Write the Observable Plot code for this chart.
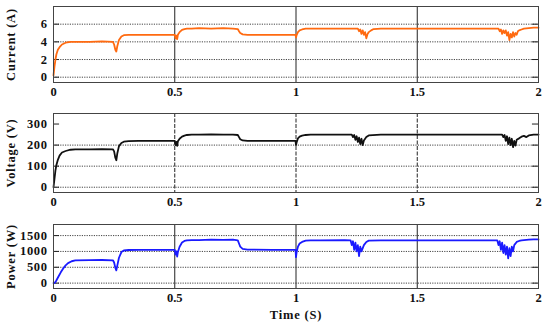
<!DOCTYPE html>
<html>
<head>
<meta charset="utf-8">
<script src="https://cdn.jsdelivr.net/npm/d3@7"></script>
<script src="https://cdn.jsdelivr.net/npm/@observablehq/plot@0.6"></script>
<style>
  body { margin: 0; background: #fff; }
  #chart { width: 550px; height: 326px; position: relative; }
  #chart svg { display: block; }
  #chart [aria-label="y-axis label"] text { letter-spacing: 0.8px; }
  #chart [aria-label="x-axis label"] text { letter-spacing: 0.8px; }
  #chart [aria-label="y-axis tick label"] text { letter-spacing: 0.6px; }
</style>
</head>
<body>
<div id="chart"></div>
<script>
// ---- shared x axis ----
const xTicks = [0, 0.5, 1, 1.5, 2];
const xTickLabels = ["0", "0.5", "1", "1.5", "2"];
const xVerticals = [0.5, 1, 1.5];

// ---- Current (A) ----
const timeI = [
  0, 0.004, 0.008, 0.012, 0.018, 0.025, 0.035, 0.05, 0.07, 0.09,
  0.15, 0.2, 0.245, 0.25, 0.255, 0.259, 0.263, 0.27, 0.28, 0.29,
  0.31, 0.35, 0.4, 0.45, 0.5, 0.503, 0.507, 0.51, 0.513, 0.52,
  0.53, 0.54, 0.55, 0.57, 0.6, 0.65, 0.7, 0.74, 0.76, 0.765,
  0.77, 0.78, 0.8, 0.9, 0.998, 1.0, 1.003, 1.008, 1.015, 1.025,
  1.04, 1.06, 1.1, 1.2, 1.255, 1.26, 1.265, 1.27, 1.275, 1.28,
  1.285, 1.29, 1.295, 1.3, 1.31, 1.32, 1.35, 1.4, 1.5, 1.6,
  1.7, 1.8, 1.835, 1.84, 1.845, 1.85, 1.855, 1.86, 1.865, 1.87,
  1.875, 1.88, 1.885, 1.89, 1.895, 1.9, 1.905, 1.91, 1.915, 1.92,
  1.93, 1.94, 1.96, 1.98, 2.0
];
const current = [
  0.2, 1.2, 2.0, 2.6, 3.1, 3.4, 3.7, 3.9, 4.0, 4.0,
  4.0, 4.05, 4.0, 3.7, 3.1, 2.9, 3.5, 4.2, 4.6, 4.75,
  4.8, 4.8, 4.8, 4.8, 4.8, 4.4, 4.7, 4.3, 4.8, 5.1,
  5.35, 5.45, 5.5, 5.5, 5.55, 5.5, 5.55, 5.5, 5.45, 5.2,
  5.0, 4.85, 4.8, 4.8, 4.8, 4.5, 4.8, 5.1, 5.3, 5.4,
  5.5, 5.5, 5.5, 5.5, 5.5, 5.2, 5.4, 4.9, 5.3, 4.8,
  5.1, 4.4, 4.9, 5.1, 5.3, 5.45, 5.5, 5.5, 5.5, 5.5,
  5.5, 5.5, 5.5, 5.2, 5.4, 4.9, 5.3, 5.0, 5.3, 4.7,
  5.1, 4.2, 4.9, 4.5, 5.1, 4.6, 5.0, 4.8, 5.2, 5.3,
  5.4, 5.5, 5.55, 5.6, 5.6
];
const currentTicks = [0, 2, 4, 6];
const currentGrid = [0, 2, 4, 6];

// ---- Voltage (V) ----
const timeV = [
  0, 0.004, 0.008, 0.012, 0.018, 0.025, 0.035, 0.05, 0.07, 0.09,
  0.15, 0.2, 0.245, 0.25, 0.255, 0.259, 0.263, 0.27, 0.28, 0.29,
  0.31, 0.35, 0.4, 0.45, 0.5, 0.503, 0.507, 0.51, 0.513, 0.52,
  0.53, 0.54, 0.55, 0.57, 0.6, 0.65, 0.7, 0.74, 0.76, 0.765,
  0.77, 0.78, 0.8, 0.9, 0.998, 1.0, 1.003, 1.008, 1.015, 1.025,
  1.04, 1.06, 1.1, 1.2, 1.23, 1.235, 1.24, 1.245, 1.25, 1.255,
  1.26, 1.265, 1.27, 1.275, 1.28, 1.29, 1.3, 1.35, 1.4, 1.5,
  1.6, 1.7, 1.8, 1.85, 1.855, 1.86, 1.865, 1.87, 1.875, 1.88,
  1.885, 1.89, 1.895, 1.9, 1.905, 1.91, 1.92, 1.93, 1.94, 1.95,
  1.96, 1.98, 2.0
];
const voltage = [
  0, 40, 80, 105, 130, 150, 165, 172, 178, 180,
  180, 181, 180, 170, 140, 128, 160, 195, 210, 216,
  219, 220, 220, 220, 220, 200, 215, 196, 218, 230,
  240, 245, 248, 250, 250, 251, 250, 250, 248, 238,
  228, 222, 220, 220, 220, 200, 215, 232, 240, 245,
  248, 250, 250, 250, 250, 238, 248, 225, 242, 215,
  235, 205, 230, 200, 222, 238, 246, 250, 250, 250,
  250, 250, 250, 250, 238, 248, 220, 242, 205, 235,
  200, 230, 190, 220, 198, 225, 232, 240, 244, 238,
  246, 250, 250
];
const voltageTicks = [0, 100, 200, 300];
const voltageGrid = [0, 100, 200];

// ---- Power (W) ----
const timeP = [
  0, 0.005, 0.01, 0.02, 0.03, 0.04, 0.05, 0.06, 0.075, 0.09,
  0.15, 0.2, 0.245, 0.25, 0.255, 0.259, 0.263, 0.27, 0.28, 0.29,
  0.31, 0.35, 0.4, 0.45, 0.5, 0.503, 0.507, 0.51, 0.513, 0.52,
  0.53, 0.54, 0.55, 0.57, 0.6, 0.65, 0.7, 0.74, 0.76, 0.765,
  0.77, 0.78, 0.8, 0.9, 0.998, 1.0, 1.003, 1.008, 1.015, 1.025,
  1.04, 1.06, 1.1, 1.2, 1.225, 1.23, 1.235, 1.24, 1.245, 1.25,
  1.255, 1.26, 1.265, 1.27, 1.28, 1.29, 1.3, 1.35, 1.4, 1.5,
  1.6, 1.7, 1.8, 1.83, 1.835, 1.84, 1.845, 1.85, 1.855, 1.86,
  1.865, 1.87, 1.875, 1.88, 1.885, 1.89, 1.895, 1.9, 1.91, 1.92,
  1.93, 1.94, 1.96, 1.98, 2.0
];
const power = [
  0, 10, 60, 200, 340, 460, 560, 630, 690, 715,
  725, 730, 720, 650, 480, 400, 550, 800, 980, 1030,
  1045, 1050, 1050, 1050, 1050, 900, 1000, 840, 980, 1150,
  1280, 1330, 1350, 1360, 1360, 1370, 1365, 1370, 1350, 1250,
  1150, 1080, 1060, 1050, 1050, 820, 1000, 1150, 1250, 1300,
  1340, 1350, 1350, 1360, 1350, 1200, 1320, 1050, 1280, 1000,
  1200, 850, 1150, 1000, 1200, 1300, 1340, 1350, 1350, 1350,
  1350, 1350, 1350, 1350, 1200, 1320, 1050, 1280, 950, 1200,
  900, 1150, 780, 1100, 850, 1150, 1000, 1200, 1300, 1330,
  1350, 1360, 1370, 1380, 1380
];
const powerTicks = [0, 500, 1000, 1500];
const powerGrid = [0, 500, 1000, 1500];

const panels = [
  {t: timeI, v: current, label: "Current (A)", color: "#ff6a10", domain: [-0.6, 8],
   ticks: currentTicks, grid: currentGrid, height: 100, mt: 6, mb: 18, dash: null, xlabel: null},
  {t: timeV, v: voltage, label: "Voltage (V)", color: "#111111", domain: [-25, 350],
   ticks: voltageTicks, grid: voltageGrid, height: 112, mt: 13, mb: 20, dash: "4,1.5", xlabel: null},
  {t: timeP, v: power, label: "Power (W)", color: "#1a1aff", domain: [-170, 1850],
   ticks: powerTicks, grid: powerGrid, height: 114, mt: 12, mb: 38, dash: null, xlabel: "Time (S)"}
];

const chart = document.getElementById("chart");
for (const p of panels) {
  const data = p.t.map((t, i) => ({t, v: p.v[i]}));
  const plot = Plot.plot({
    width: 550,
    height: p.height,
    marginLeft: 53,
    marginRight: 12,
    marginTop: p.mt,
    marginBottom: p.mb,
    style: {fontFamily: "'Liberation Serif', serif", fontWeight: "bold", fontSize: "12px", color: "#111", background: "#fff", overflow: "visible"},
    x: {domain: [0, 2]},
    y: {domain: p.domain},
    marks: [
      Plot.ruleY(p.grid, {stroke: "#444", strokeDasharray: "1.2,1.2", strokeWidth: 1}),
      Plot.ruleX(xVerticals, {stroke: "#222", strokeWidth: 1, strokeDasharray: p.dash}),
      Plot.ruleY(p.ticks, {x1: 0, x2: 0.025, stroke: "#222"}),
      Plot.ruleY(p.ticks, {x1: 1.975, x2: 2, stroke: "#222"}),
      Plot.line(data, {x: "t", y: "v", stroke: p.color, strokeWidth: 1.8}),
      Plot.frame({stroke: "#444"}),
      Plot.axisY({ticks: p.ticks, tickSize: 0, tickPadding: 6, tickFormat: (d) => String(d),
        label: p.label, labelArrow: "none", labelAnchor: "center", labelOffset: 47, fontSize: 12.5}),
      Plot.axisX({ticks: xTicks, tickSize: 0, tickPadding: 5,
        tickFormat: (d) => xTickLabels[xTicks.indexOf(d)],
        label: p.xlabel, labelArrow: "none", labelAnchor: "center", labelOffset: 30, fontSize: 12.5})
    ]
  });
  chart.appendChild(plot);
}
</script>
</body>
</html>
